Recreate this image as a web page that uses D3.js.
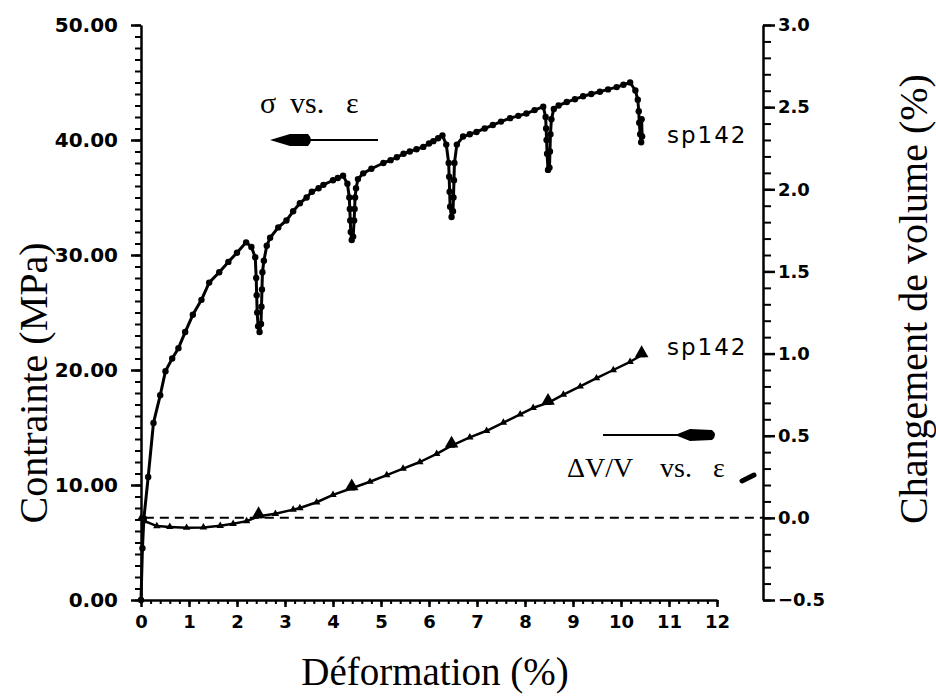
<!DOCTYPE html>
<html>
<head>
<meta charset="utf-8">
<script src="https://cdn.jsdelivr.net/npm/d3@7"></script>
<style>
  body { margin: 0; background: #fff; }
  .axis path, .axis line { stroke: #000; }
  .serif { font-family: "Liberation Serif", "Times New Roman", serif; }
</style>
</head>
<body>
<div class="chart"></div>
<script>
var svgWidth = 936;
var svgHeight = 697;

// stress curve (strain %, MPa)
var strain = [0, 0.03, 0.06, 0.15, 0.26, 0.4, 0.51, 0.65, 0.78, 0.92, 1.08, 1.26, 1.42, 1.63, 1.82, 2.0, 2.19,
  2.3, 2.38, 2.4, 2.41, 2.42, 2.44, 2.47, 2.5, 2.51, 2.52, 2.53, 2.56, 2.62, 2.69, 2.86, 3.03, 3.17, 3.31, 3.45, 3.56, 3.7, 3.8, 4.0, 4.1, 4.21,
  4.3, 4.34, 4.35, 4.36, 4.37, 4.39, 4.42, 4.44, 4.45, 4.46, 4.48, 4.52, 4.63, 4.8, 5.05, 5.2, 5.33, 5.47, 5.6, 5.74, 5.88, 6.0, 6.09, 6.19, 6.28,
  6.36, 6.41, 6.42, 6.43, 6.44, 6.47, 6.5, 6.51, 6.52, 6.53, 6.58, 6.71, 6.85, 6.99, 7.16, 7.33, 7.5, 7.69, 7.86, 8.03, 8.2, 8.38,
  8.43, 8.44, 8.45, 8.46, 8.48, 8.51, 8.52, 8.53, 8.55, 8.6, 8.7, 8.87, 9.04, 9.21, 9.38, 9.56, 9.73, 9.91, 10.05, 10.19,
  10.3, 10.35, 10.37, 10.38, 10.4, 10.42, 10.44, 10.43];
var stress = [0, 4.5, 7.1, 10.7, 15.4, 17.8, 19.9, 21.0, 21.9, 23.3, 24.8, 26.1, 27.6, 28.5, 29.4, 30.2, 31.1,
  30.7, 29.8, 28.0, 26.5, 25.0, 23.8, 23.3, 24.0, 25.5, 27.0, 28.5, 29.5, 30.8, 31.5, 32.4, 33.0, 33.8, 34.5, 35.0, 35.5, 35.8, 36.1, 36.5, 36.7, 36.9,
  36.2, 35.0, 34.0, 33.0, 32.0, 31.3, 31.6, 33.0, 34.0, 35.0, 35.8, 36.6, 37.1, 37.5, 38.0, 38.25, 38.5, 38.8, 39.0, 39.2, 39.4, 39.7, 39.9, 40.15, 40.4,
  39.6, 38.0, 36.8, 35.5, 34.2, 33.3, 33.8, 35.0, 36.5, 38.0, 39.6, 40.3, 40.5, 40.7, 41.0, 41.3, 41.6, 41.9, 42.1, 42.3, 42.6, 42.9,
  42.0, 41.0, 40.0, 38.8, 37.4, 37.6, 39.0, 40.5, 41.8, 42.7, 43.0, 43.3, 43.55, 43.8, 44.0, 44.2, 44.4, 44.6, 44.8, 45.0,
  44.3, 43.5, 42.5, 41.5, 40.5, 39.8, 40.3, 41.8];

// volume change curve (strain %, dV/V %)
var volStrain = [0, 0.08, 0.33, 0.6, 0.95, 1.3, 1.65, 1.92, 2.2, 2.45, 2.8, 3.17, 3.31, 3.66, 4.0, 4.39, 4.77, 5.12,
  5.46, 5.81, 6.16, 6.47, 6.85, 7.2, 7.55, 7.9, 8.17, 8.48, 8.8, 9.15, 9.49, 9.84, 10.19, 10.43];
var volChange = [0, -0.02, -0.05, -0.055, -0.06, -0.058, -0.048, -0.036, -0.02, 0.01, 0.025, 0.05, 0.06, 0.095, 0.14, 0.18, 0.22, 0.26,
  0.30, 0.34, 0.39, 0.44, 0.49, 0.53, 0.58, 0.63, 0.67, 0.70, 0.75, 0.80, 0.85, 0.90, 0.95, 0.99];

// unloading cycles, marked with bigger triangles
var cycleStrain = [2.45, 4.39, 6.47, 8.48, 10.43];
var cycleVol = [0.01, 0.18, 0.44, 0.70, 0.99];

var xTicks = d3.range(0, 13);
var leftTicks = [0, 10, 20, 30, 40, 50];
var rightTicks = [-0.5, 0, 0.5, 1.0, 1.5, 2.0, 2.5, 3.0];

var svg = d3.select(".chart")
  .append("svg")
  .attr("width", svgWidth)
  .attr("height", svgHeight);

var xScale = d3.scaleLinear().domain([0, 12]).range([141, 717]);
var yLeft = d3.scaleLinear().domain([0, 50]).range([600, 25]);
var yRight = d3.scaleLinear().domain([-0.5, 3.0]).range([600, 25]);

// minor ticks first, then the labelled ones
svg.append("g").attr("class", "axis")
  .attr("transform", "translate(141,0)")
  .call(d3.axisLeft(yLeft).tickValues(d3.range(0, 51)).tickSize(6).tickSizeOuter(0).tickFormat(""))
  .call(g => g.selectAll("line").attr("stroke-width", 2));
svg.append("g").attr("class", "axis")
  .attr("transform", "translate(141,0)")
  .call(d3.axisLeft(yLeft).tickValues(leftTicks).tickSize(10).tickSizeOuter(0).tickPadding(13).tickFormat(d3.format(".2f")))
  .call(g => g.select(".domain").attr("stroke-width", 2.5))
  .call(g => g.selectAll("line").attr("stroke-width", 2.5))
  .call(g => g.selectAll("text").attr("font-family", "DejaVu Sans").attr("font-weight", "bold").attr("font-size", 20).attr("fill", "#000"));

svg.append("g").attr("class", "axis")
  .attr("transform", "translate(0,600)")
  .call(d3.axisBottom(xScale).tickValues(d3.range(0, 61).map(d => d / 5)).tickSize(4).tickSizeOuter(0).tickFormat(""))
  .call(g => g.selectAll("line").attr("stroke-width", 2));
svg.append("g").attr("class", "axis")
  .attr("transform", "translate(0,600)")
  .call(d3.axisBottom(xScale).tickValues(xTicks).tickSize(7).tickSizeOuter(0).tickPadding(8))
  .call(g => g.select(".domain").attr("stroke-width", 2.5))
  .call(g => g.selectAll("line").attr("stroke-width", 2.5))
  .call(g => g.selectAll("text").attr("font-family", "DejaVu Sans").attr("font-weight", "bold").attr("font-size", 18).attr("fill", "#000"));

svg.append("g").attr("class", "axis")
  .attr("transform", "translate(763,0)")
  .call(d3.axisRight(yRight).tickValues(d3.range(-5, 31).map(d => d / 10)).tickSize(8).tickSizeOuter(0).tickFormat(""))
  .call(g => g.selectAll("line").attr("stroke-width", 2));
svg.append("g").attr("class", "axis")
  .attr("transform", "translate(763,0)")
  .call(d3.axisRight(yRight).tickValues(rightTicks).tickSize(12).tickSizeOuter(0).tickPadding(3).tickFormat(d3.format(".1f")))
  .call(g => g.select(".domain").attr("stroke-width", 2.5))
  .call(g => g.selectAll("line").attr("stroke-width", 2.5))
  .call(g => g.selectAll("text").attr("font-family", "DejaVu Sans").attr("font-weight", "bold").attr("font-size", 18).attr("fill", "#000"));

// zero line for the volume change
svg.append("line")
  .attr("x1", xScale(0.08)).attr("x2", 763)
  .attr("y1", yRight(0)).attr("y2", yRight(0))
  .attr("stroke", "#000")
  .attr("stroke-width", 2)
  .attr("stroke-dasharray", "9,6");

// stress curve
var stressData = strain.map((d, i) => [d, stress[i]]);
svg.append("path")
  .datum(stressData)
  .attr("fill", "none")
  .attr("stroke", "#000")
  .attr("stroke-width", 3)
  .attr("stroke-linejoin", "round")
  .attr("d", d3.line().x(d => xScale(d[0])).y(d => yLeft(d[1])));
svg.selectAll(".dots")
  .data(stressData)
  .enter()
  .append("circle")
  .attr("class", "dots")
  .attr("cx", d => xScale(d[0]))
  .attr("cy", d => yLeft(d[1]))
  .attr("r", 3.2)
  .attr("fill", "#000");

// volume curve
var volData = volStrain.map((d, i) => [d, volChange[i]]);
svg.append("path")
  .datum(volData)
  .attr("fill", "none")
  .attr("stroke", "#000")
  .attr("stroke-width", 2.5)
  .attr("stroke-linejoin", "round")
  .attr("d", d3.line().x(d => xScale(d[0])).y(d => yRight(d[1])));
svg.selectAll(".tri")
  .data(volData)
  .enter()
  .append("path")
  .attr("class", "tri")
  .attr("transform", d => `translate(${xScale(d[0])},${yRight(d[1])})`)
  .attr("d", d3.symbol(d3.symbolTriangle).size(24))
  .attr("fill", "#000");
svg.selectAll(".bigtri")
  .data(cycleStrain)
  .enter()
  .append("path")
  .attr("class", "bigtri")
  .attr("transform", (d, i) => `translate(${xScale(d)},${yRight(cycleVol[i]) - 2})`)
  .attr("d", d3.symbol(d3.symbolTriangle).size(80))
  .attr("fill", "#000");

// annotations
var sigmaLabel = svg.append("text").attr("class", "serif").attr("font-size", 30).attr("y", 113);
sigmaLabel.append("tspan").attr("x", 260).text("σ");
sigmaLabel.append("tspan").attr("x", 290).text("vs.");
sigmaLabel.append("tspan").attr("x", 346).text("ε");

svg.append("line")
  .attr("x1", 300).attr("x2", 378).attr("y1", 140).attr("y2", 140)
  .attr("stroke", "#000").attr("stroke-width", 2);
svg.append("path")
  .attr("d", "M270,140 L290,134 L308,134 Q314,140 308,146 L290,146 Z")
  .attr("fill", "#000");

var dvLabel = svg.append("text").attr("class", "serif").attr("font-size", 28).attr("y", 477);
dvLabel.append("tspan").attr("x", 567).text("ΔV/V");
dvLabel.append("tspan").attr("x", 660).text("vs.");
dvLabel.append("tspan").attr("x", 713).text("ε");

svg.append("line")
  .attr("x1", 603).attr("x2", 690).attr("y1", 435).attr("y2", 435)
  .attr("stroke", "#000").attr("stroke-width", 2);
svg.append("path")
  .attr("d", "M675,435 L690,429 L712,430 Q718,435 712,440 L690,441 Z")
  .attr("fill", "#000");

svg.append("path")
  .attr("d", "M742,481 L754,475")
  .attr("fill", "none").attr("stroke", "#000").attr("stroke-width", 5).attr("stroke-linecap", "round");

svg.append("text")
  .attr("x", 667).attr("y", 143)
  .attr("font-family", "DejaVu Sans").attr("font-size", 23).attr("letter-spacing", 2)
  .text("sp142");
svg.append("text")
  .attr("x", 667).attr("y", 355)
  .attr("font-family", "DejaVu Sans").attr("font-size", 23).attr("letter-spacing", 2)
  .text("sp142");

// axis titles
svg.append("text")
  .attr("class", "serif")
  .attr("x", 435).attr("y", 685)
  .attr("text-anchor", "middle")
  .attr("font-size", 39)
  .text("Déformation (%)");

svg.append("text")
  .attr("class", "serif")
  .attr("transform", "translate(47,383) rotate(-90)")
  .attr("text-anchor", "middle")
  .attr("font-size", 40)
  .text("Contrainte (MPa)");

svg.append("text")
  .attr("class", "serif")
  .attr("transform", "translate(927,299) rotate(-90)")
  .attr("text-anchor", "middle")
  .attr("font-size", 40)
  .text("Changement de volume (%)");
</script>
</body>
</html>
